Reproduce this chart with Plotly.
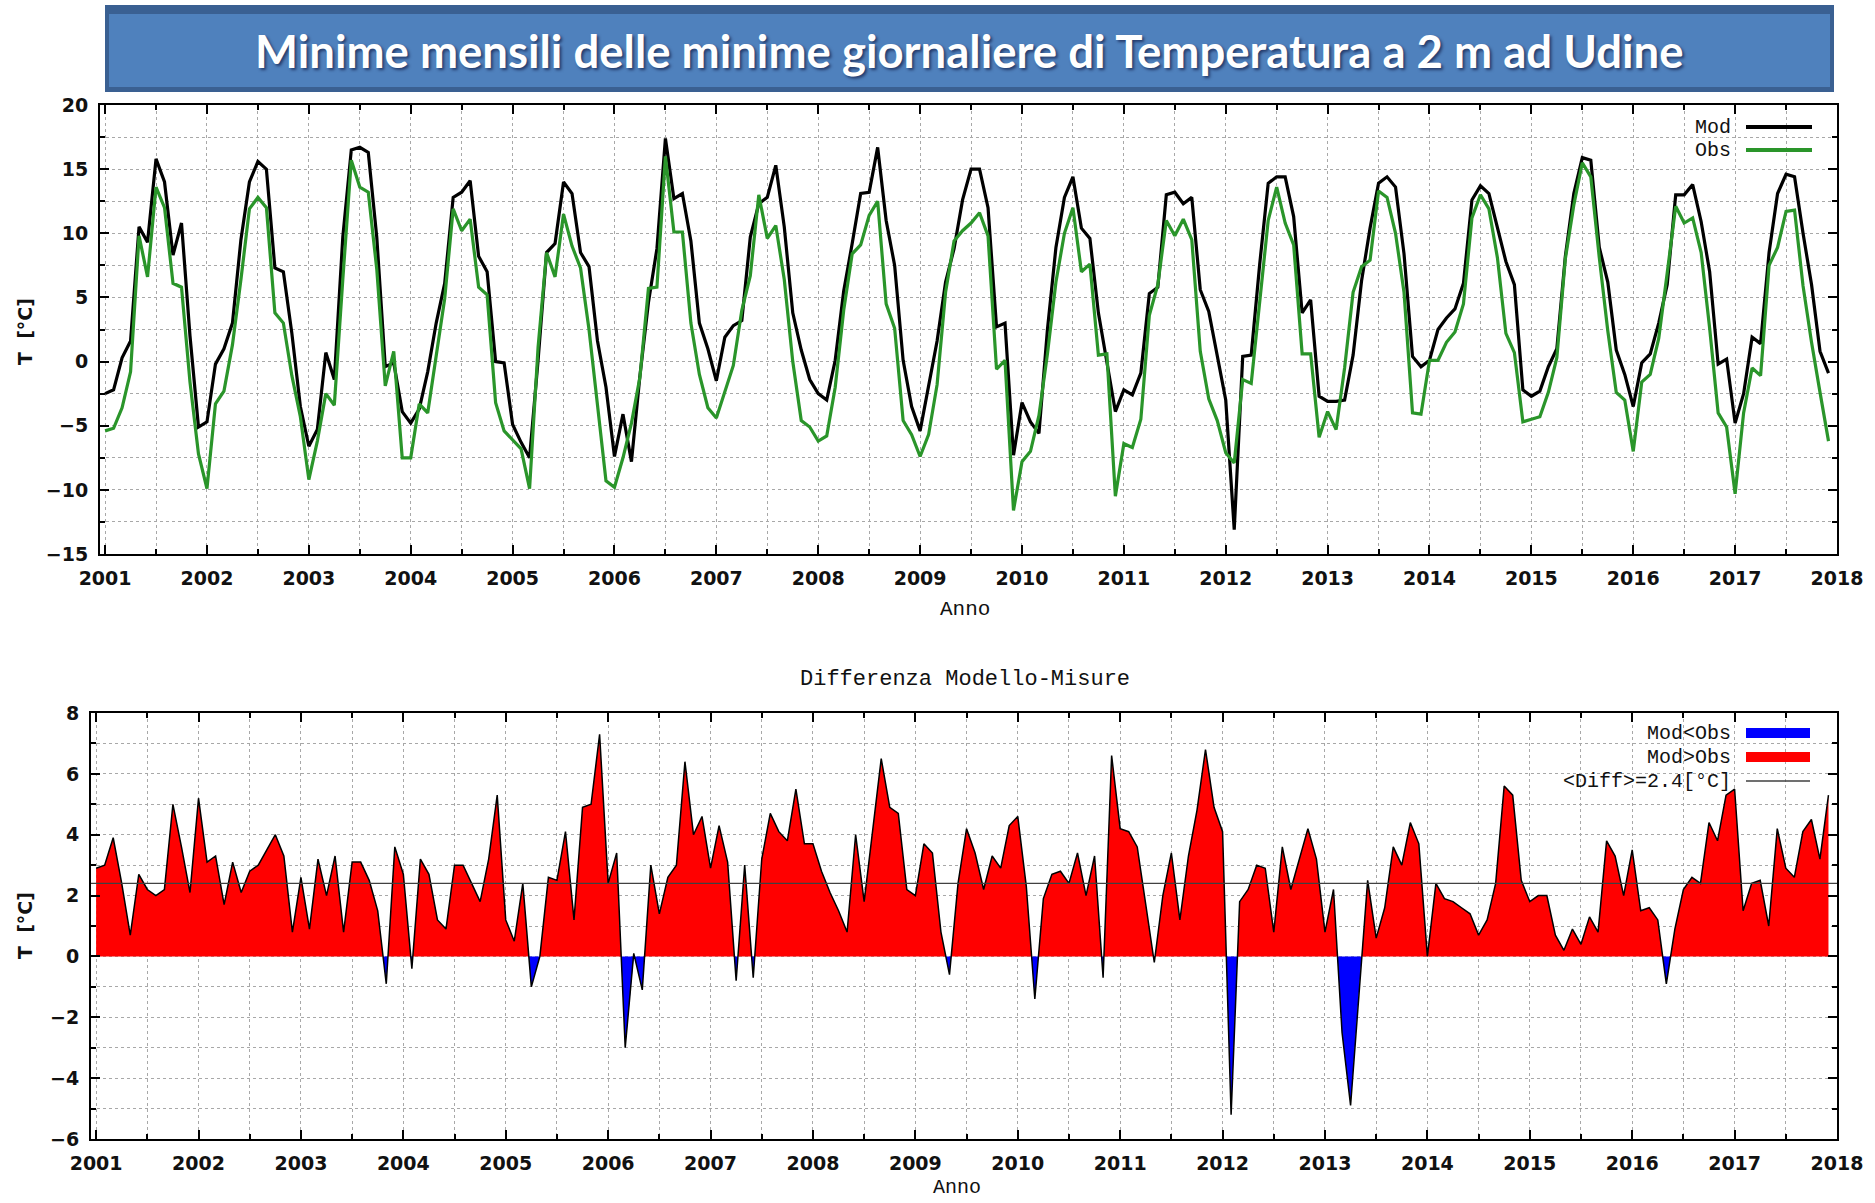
import numpy as np
import plotly.graph_objects as go

W, H = 1875, 1203

TITLE = "Minime mensili delle minime giornaliere di Temperatura a 2 m ad Udine"
SUBTITLE = "Differenza Modello-Misure"
START_YEAR = 2001
YEAR_TICKS = list(range(2001, 2019))
MEAN_DIFF = 2.4

# Monthly minima of the daily minimum temperature [°C], Jan 2001 .. Dec 2017
MOD = [
    -2.5, -2.2, 0.3, 1.6, 10.5, 9.3, 15.8, 14.0, 8.3, 10.8, 2.0, -5.1,
    -4.7, -0.2, 1.0, 3.0, 9.5, 14.0, 15.6, 15.0, 7.3, 7.0, 2.2, -3.5,
    -6.6, -5.3, 0.7, -1.4, 9.7, 16.5, 16.7, 16.3, 9.7, -0.4, -0.1, -3.9,
    -4.8, -3.7, -0.8, 3.0, 6.1, 12.8, 13.2, 14.1, 8.2, 7.0, 0.0, -0.1,
    -4.9, -6.3, -7.5, 0.1, 8.5, 9.2, 14.0, 13.1, 8.5, 7.4, 1.6, -2.0,
    -7.4, -4.1, -7.8, -1.1, 4.6, 8.8, 17.4, 12.7, 13.1, 9.4, 3.0, 1.0,
    -1.5, 1.9, 2.8, 3.2, 9.7, 12.3, 12.8, 15.3, 10.5, 3.8, 0.9, -1.4,
    -2.5, -3.0, 0.1, 5.5, 9.2, 13.1, 13.2, 16.7, 11.0, 7.5, 0.1, -3.5,
    -5.4, -2.0, 1.6, 6.2, 8.8, 12.6, 15.0, 15.0, 12.0, 2.7, 3.0, -7.3,
    -3.2, -4.7, -5.6, 2.5, 8.9, 12.8, 14.4, 10.4, 9.6, 3.8, -0.1, -3.9,
    -2.2, -2.6, -0.9, 5.3, 5.8, 13.0, 13.2, 12.3, 12.8, 5.6, 3.9, 0.3,
    -3.0, -13.1, 0.4, 0.5, 7.6, 13.9, 14.4, 14.4, 11.3, 3.8, 4.8, -2.7,
    -3.1, -3.1, -3.0, 0.5, 6.3, 10.4, 13.9, 14.4, 13.6, 8.4, 0.4, -0.4,
    0.1, 2.5, 3.4, 4.1, 6.1, 12.6, 13.7, 13.1, 10.5, 7.8, 6.0, -2.2,
    -2.7, -2.3, -0.4, 1.0, 8.2, 13.1, 15.9, 15.7, 8.9, 6.2, 0.9, -1.0,
    -3.5, -0.1, 0.6, 3.0, 6.0, 13.0, 13.0, 13.8, 10.9, 7.0, -0.2, 0.2,
    -4.8, -2.5, 1.9, 1.4, 8.5, 13.1, 14.6, 14.4, 10.0, 6.0, 0.8, -0.9,
]

OBS = [
    -5.4, -5.2, -3.6, -0.8, 9.8, 6.6, 13.6, 12.0, 6.1, 5.8, -1.6, -7.2,
    -9.9, -3.3, -2.3, 1.3, 6.4, 11.9, 12.8, 12.0, 3.8, 3.0, -1.1, -4.3,
    -9.2, -6.2, -2.5, -3.4, 6.4, 15.7, 13.6, 13.2, 7.2, -1.9, 0.8, -7.5,
    -7.5, -3.3, -4.0, 0.3, 4.9, 11.9, 10.2, 11.1, 5.8, 5.2, -3.2, -5.4,
    -6.1, -6.8, -9.9, 1.1, 8.5, 6.6, 11.5, 9.0, 7.3, 2.5, -3.4, -9.3,
    -9.8, -7.5, -4.8, -1.2, 5.7, 5.8, 16.0, 10.1, 10.1, 3.0, -1.0, -3.6,
    -4.4, -2.4, -0.3, 4.0, 6.7, 13.0, 9.6, 10.6, 6.4, 0.0, -4.6, -5.1,
    -6.2, -5.8, -2.0, 4.0, 8.4, 9.1, 11.4, 12.5, 4.5, 2.6, -4.6, -5.7,
    -7.4, -5.7, -1.8, 5.4, 9.4, 10.2, 10.8, 11.6, 9.8, -0.6, 0.1, -11.6,
    -7.8, -7.0, -4.2, 0.6, 6.2, 10.0, 12.0, 7.0, 7.6, 0.5, 0.6, -10.5,
    -6.4, -6.7, -4.5, 3.6, 6.0, 11.0, 9.8, 11.1, 9.5, 0.8, -2.9, -4.6,
    -7.1, -7.9, -1.4, -1.7, 4.6, 11.0, 13.6, 10.8, 9.1, 0.6, 0.6, -5.9,
    -3.9, -5.3, -0.5, 5.4, 7.4, 7.9, 13.3, 12.8, 10.0, 5.4, -4.0, -4.1,
    0.1, 0.1, 1.5, 2.3, 4.5, 11.2, 13.0, 11.9, 8.1, 2.2, 0.7, -4.7,
    -4.5, -4.3, -2.4, 0.3, 8.0, 12.2, 15.5, 14.4, 8.1, 2.4, -2.4, -3.0,
    -7.0, -1.6, -1.0, 1.8, 6.9, 12.1, 10.8, 11.2, 8.5, 2.6, -4.0, -5.1,
    -10.3, -4.0, -0.5, -1.1, 7.5, 8.9, 11.7, 11.8, 5.9, 1.5, -2.4, -6.2,
]

MOD_COLOR = "#000000"
OBS_COLOR = "#2a952a"
POS_COLOR = "#ff0000"
NEG_COLOR = "#0000ff"
GRID_COLOR = "#a8a8a8"
MONO = "Liberation Mono, DejaVu Sans Mono, monospace"
SANS = "DejaVu Sans, Liberation Sans, sans-serif"

mod = np.array(MOD, dtype=float)
obs = np.array(OBS, dtype=float)
t = START_YEAR + np.arange(len(mod)) / 12.0
diff = mod - obs


def px(x):
    return x / W


def py(y):
    return 1.0 - y / H


def split_at_zero(x, y):
    """Insert the zero crossings so the red and blue areas meet on y=0."""
    xs, ys = [x[0]], [y[0]]
    for i in range(1, len(x)):
        y0, y1 = y[i - 1], y[i]
        if y0 * y1 < 0:
            xs.append(x[i - 1] + (x[i] - x[i - 1]) * y0 / (y0 - y1))
            ys.append(0.0)
        xs.append(x[i])
        ys.append(y[i])
    xs = np.array(xs)
    ys = np.array(ys)
    return xs, np.maximum(ys, 0.0), np.minimum(ys, 0.0)


xs, pos, neg = split_at_zero(t, diff)

fig = go.Figure()

# --- upper panel: model vs. observations
fig.add_trace(go.Scatter(x=t, y=mod, mode="lines", name="Mod",
                         line=dict(color=MOD_COLOR, width=3.2),
                         xaxis="x", yaxis="y", showlegend=False))
fig.add_trace(go.Scatter(x=t, y=obs, mode="lines", name="Obs",
                         line=dict(color=OBS_COLOR, width=3.2),
                         xaxis="x", yaxis="y", showlegend=False))

# --- lower panel: difference model - observations
fig.add_trace(go.Scatter(x=xs, y=pos, mode="lines", fill="tozeroy",
                         fillcolor=POS_COLOR, line=dict(width=0, color=POS_COLOR),
                         xaxis="x2", yaxis="y2", showlegend=False))
fig.add_trace(go.Scatter(x=xs, y=neg, mode="lines", fill="tozeroy",
                         fillcolor=NEG_COLOR, line=dict(width=0, color=NEG_COLOR),
                         xaxis="x2", yaxis="y2", showlegend=False))
fig.add_trace(go.Scatter(x=t, y=diff, mode="lines",
                         line=dict(color="#000000", width=1.5),
                         xaxis="x2", yaxis="y2", showlegend=False))
fig.add_trace(go.Scatter(x=[2000.95, 2018.0], y=[MEAN_DIFF, MEAN_DIFF], mode="lines",
                         line=dict(color="#404040", width=1.3),
                         xaxis="x2", yaxis="y2", showlegend=False))

tickfont = dict(family=SANS, size=19, color="#111111", weight="bold")


def xaxis_common(domain, anchor):
    return dict(
        domain=domain, anchor=anchor, range=[2000.95, 2018.0], automargin=False,
        tickmode="array", tickvals=YEAR_TICKS, ticktext=[str(y) for y in YEAR_TICKS],
        ticks="inside", ticklen=9, tickwidth=1.5, tickcolor="#000",
        showline=True, linecolor="#000", linewidth=2, mirror="ticks",
        showgrid=True, gridcolor=GRID_COLOR, griddash="dot", gridwidth=1,
        minor=dict(dtick=0.5, tick0=2001, ticks="inside", ticklen=5, tickcolor="#000",
                   showgrid=True, gridcolor=GRID_COLOR, griddash="dot", gridwidth=1),
        tickfont=tickfont, ticklabelstandoff=6, zeroline=False, fixedrange=True,
    )


def yaxis_common(domain, anchor, rng, dtick, minor):
    return dict(
        domain=domain, anchor=anchor, range=rng, dtick=dtick, tick0=0, automargin=False,
        ticks="inside", ticklen=9, tickwidth=1.5, tickcolor="#000",
        showline=True, linecolor="#000", linewidth=2, mirror="ticks",
        showgrid=True, gridcolor=GRID_COLOR, griddash="dot", gridwidth=1,
        minor=dict(dtick=minor, ticks="inside", ticklen=5, tickcolor="#000",
                   showgrid=True, gridcolor=GRID_COLOR, griddash="dot", gridwidth=1),
        tickfont=tickfont, ticklabelstandoff=6, zeroline=False, fixedrange=True,
    )


TOP = dict(l=100, r=1837, t=105, b=554)
BOT = dict(l=91, r=1837, t=713, b=1139)

fig.update_layout(
    width=W, height=H, autosize=False,
    margin=dict(l=0, r=0, t=0, b=0, pad=0, autoexpand=False),
    paper_bgcolor="white", plot_bgcolor="white",
    xaxis=xaxis_common([px(TOP["l"]), px(TOP["r"])], "y"),
    yaxis=yaxis_common([py(TOP["b"]), py(TOP["t"])], "x", [-15, 20], 5, 2.5),
    xaxis2=xaxis_common([px(BOT["l"]), px(BOT["r"])], "y2"),
    yaxis2=yaxis_common([py(BOT["b"]), py(BOT["t"])], "x2", [-6, 8], 2, 1),
)

shapes = []
annotations = []

# title banner
shapes.append(dict(type="rect", xref="paper", yref="paper",
                   x0=px(105), x1=px(1834), y0=py(92), y1=py(5),
                   fillcolor="#3a6092", line=dict(width=0), layer="above"))
shapes.append(dict(type="rect", xref="paper", yref="paper",
                   x0=px(109), x1=px(1830), y0=py(87), y1=py(14),
                   fillcolor="#4f81bd", line=dict(width=0), layer="above"))
annotations.append(dict(
    text="<b>" + TITLE + "</b>", xref="paper", yref="paper",
    x=px(969), y=py(50), xanchor="center", yanchor="middle", showarrow=False,
    font=dict(family="Lato, Open Sans, sans-serif", size=45.5, color="white",
              shadow="2px 2px 3px rgba(0,0,40,0.55)"),
))

# axis titles
for cx, cy, fs in [(965, 609, 21), (957, 1187, 20)]:
    annotations.append(dict(text="Anno", xref="paper", yref="paper", x=px(cx), y=py(cy),
                            xanchor="center", yanchor="middle", showarrow=False,
                            font=dict(family=MONO, size=fs, color="#111")))
for cy in [332, 926]:
    annotations.append(dict(text="T  [°C]", xref="paper", yref="paper", x=px(25), y=py(cy),
                            xanchor="center", yanchor="middle", showarrow=False, textangle=-90,
                            font=dict(family=SANS, size=19, color="#111", weight="bold")))
annotations.append(dict(text=SUBTITLE, xref="paper", yref="paper", x=px(965), y=py(679),
                        xanchor="center", yanchor="middle", showarrow=False,
                        font=dict(family=MONO, size=22, color="#111")))

# legend of the upper panel
for label, color, cy in [("Mod", MOD_COLOR, 127), ("Obs", OBS_COLOR, 150)]:
    annotations.append(dict(text=label, xref="paper", yref="paper", x=px(1733), y=py(cy),
                            xanchor="right", yanchor="middle", showarrow=False,
                            font=dict(family=MONO, size=20, color="#111")))
    shapes.append(dict(type="line", xref="paper", yref="paper", x0=px(1746), x1=px(1812),
                       y0=py(cy), y1=py(cy), line=dict(color=color, width=4)))

# legend of the lower panel
legend2 = [("Mod&lt;Obs", NEG_COLOR, 733, 10), ("Mod&gt;Obs", POS_COLOR, 757, 10),
           ("&lt;Diff&gt;=%.1f[°C]" % MEAN_DIFF, "#404040", 781, 1.3)]
for label, color, cy, lw in legend2:
    annotations.append(dict(text=label, xref="paper", yref="paper", x=px(1733), y=py(cy),
                            xanchor="right", yanchor="middle", showarrow=False,
                            font=dict(family=MONO, size=20, color="#111")))
    shapes.append(dict(type="line", xref="paper", yref="paper", x0=px(1746), x1=px(1810),
                       y0=py(cy), y1=py(cy), line=dict(color=color, width=lw)))

fig.update_layout(shapes=shapes, annotations=annotations)

fig.write_html("out.html")
